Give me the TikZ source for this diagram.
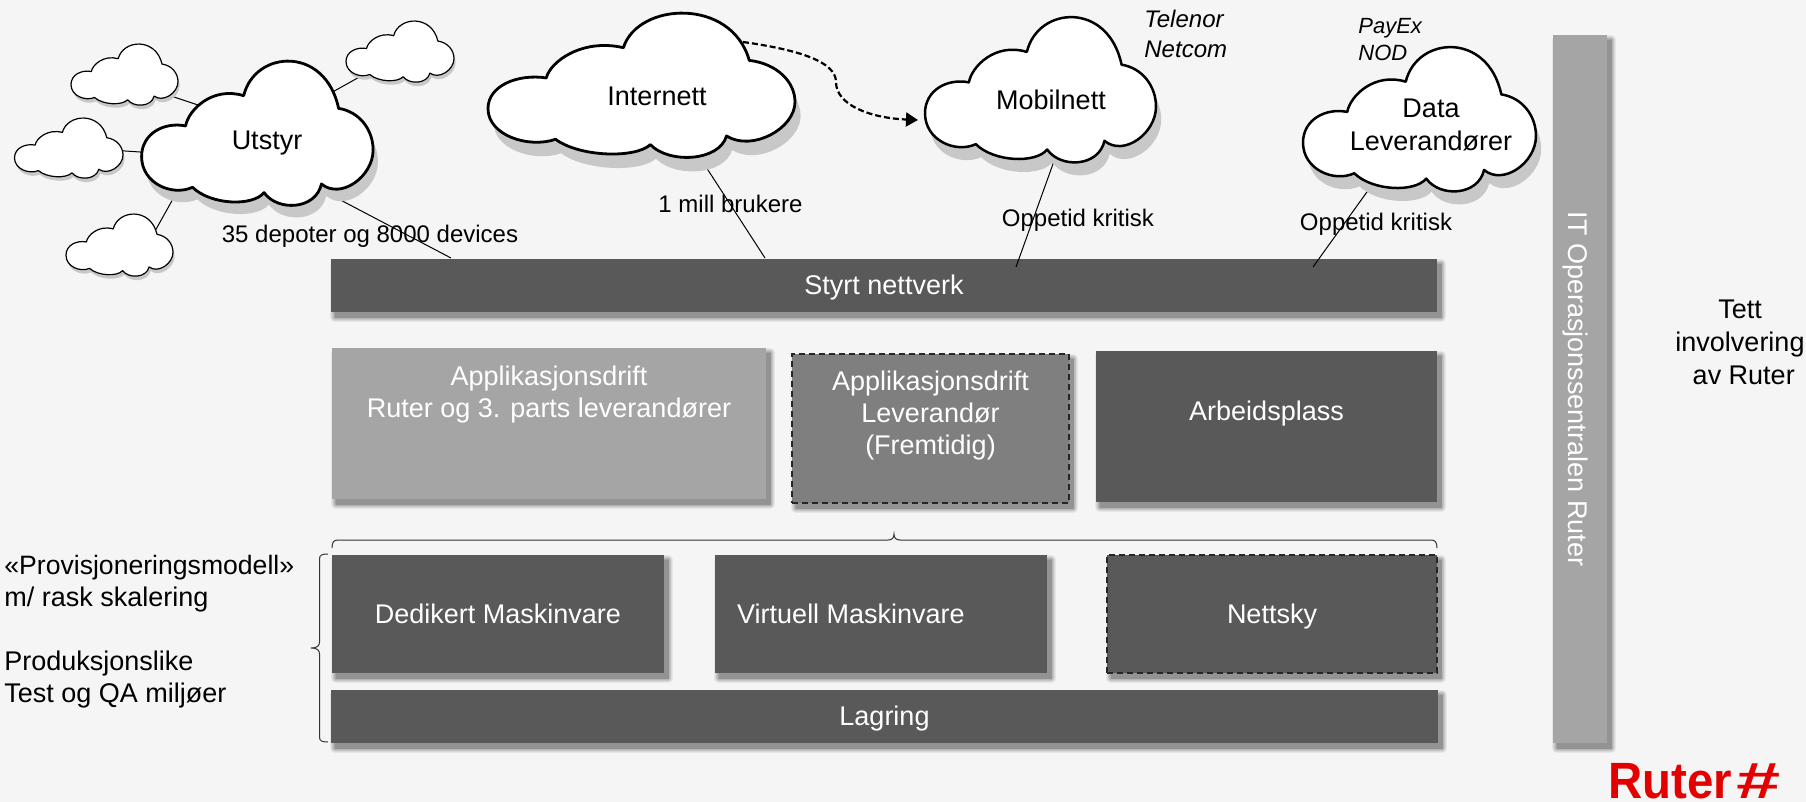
\documentclass[tikz,border=0pt]{standalone}
\usepackage{fontspec}
\setmainfont{Liberation Sans}
\usetikzlibrary{arrows.meta}
\definecolor{bakgrunn}{HTML}{F5F5F5}
\definecolor{morkgraa}{HTML}{595959}
\definecolor{midgraa}{HTML}{7F7F7F}
\definecolor{lysgraa}{HTML}{A5A5A5}
\definecolor{skyskygge}{HTML}{C8C8C8}
\definecolor{ruterrod}{HTML}{E30000}
\tikzset{
  skyggelag/.style 2 args={preaction={draw=#2,fill=#2,solid,line width=#1,line join=round,
    transform canvas={xshift=2pt,yshift=-2.5pt}}},
  bar/.style={fill=#1,text=white,inner sep=0pt,outer sep=0pt,align=center,
    font=\fontsize{13.5}{16}\selectfont,
    skyggelag={5pt}{black!6!bakgrunn},skyggelag={4pt}{black!12!bakgrunn},skyggelag={3pt}{black!19!bakgrunn},
    skyggelag={2pt}{black!26!bakgrunn},skyggelag={1pt}{black!33!bakgrunn},skyggelag={.1pt}{black!40!bakgrunn}},
  enlinje/.style={text height=11pt,text depth=2pt},
  stiplet/.style={draw=black!85,line width=.6pt,dash pattern=on 3pt off 2pt},
  merke/.style={inner sep=0pt,font=\fontsize{12}{16}\selectfont},
  stor/.style={inner sep=0pt,align=center,font=\fontsize{13.5}{16.5}\selectfont},
  kant/.style={line width=.5pt},
  klamme/.style={draw=black!80,line width=.5pt},
}
% sky i en boks 100x100
\newcommand{\skypath}[1]{%
  \path[#1] (19,45.1) .. controls (20.2,34) and (30.6,17.4) .. (44.1,24.1)
  .. controls (48.8,-7.6) and (79.3,-11.1) .. (85.1,32.9)
  .. controls (94.2,35.2) and (100,47.9) .. (100,61.8)
  .. controls (100,80.3) and (86,96.5) .. (77.7,85.4)
  .. controls (75.2,103.5) and (58.7,104.6) .. (52.9,91.4)
  .. controls (47.9,101.2) and (29.8,100) .. (22,87.7)
  .. controls (13.2,94.2) and (0,85) .. (0,66.4)
  .. controls (0,50.2) and (9.9,42.1) .. (19,45.1) -- cycle;}
\newcommand{\sky}[6]{%
  \begin{scope}[shift={(#1,#2)},xshift=#6*.2pt,yshift=-#6*.5pt,xscale=#3/100,yscale=#4/100]
    \skypath{fill=skyskygge}
  \end{scope}
  \begin{scope}[shift={(#1,#2)},xscale=#3/100,yscale=#4/100]
    \skypath{draw=black,fill=white,line width=#5,line join=round}
  \end{scope}
}
\begin{document}
\begin{tikzpicture}[x=.5pt,y=-.5pt]
  \useasboundingbox (0,0) rectangle (1806,802);
  \fill[bakgrunn] (0,0) rectangle (1806,802);
  % felt
  \node[bar=morkgraa,enlinje,minimum width=553pt,minimum height=26.5pt] (styrt) at (884,285.5) {Styrt nettverk};
  \node[bar=lysgraa,minimum width=217pt,minimum height=75.5pt] (applruter) at (549,423.5)
    {Applikasjonsdrift\\Ruter og 3. parts leverandører\\~\\~};
  \node[bar=midgraa,stiplet,minimum width=138.5pt,minimum height=74.5pt] (applleverandor) at (930.5,428.5)
    {Applikasjonsdrift\\Leverandør\\(Fremtidig)\\~};
  \node[bar=morkgraa,minimum width=170.5pt,minimum height=75.5pt] (arbeidsplass) at (1266.5,426.5)
    {Arbeidsplass\\~};
  \node[bar=morkgraa,enlinje,minimum width=166.25pt,minimum height=59pt] (dedikert) at (498,614) {Dedikert Maskinvare};
  \node[bar=morkgraa,enlinje,minimum width=166pt,minimum height=59pt] (virtuell) at (881,614)
    {Virtuell Maskinvare\hspace*{30pt}};
  \node[bar=morkgraa,enlinje,stiplet,minimum width=165pt,minimum height=59pt] (nettsky) at (1272,614) {Nettsky};
  \node[bar=morkgraa,enlinje,minimum width=553.5pt,minimum height=26.5pt] (lagring) at (884.5,716.5) {Lagring};
  \node[bar=lysgraa,minimum width=27pt,minimum height=354pt] (itbar) at (1580,389) {};
  \node[stor,text=white,rotate=-90] (ittekst) at (1575,389) {IT Operasjonssentralen Ruter};
  % klammer
  \coordinate (toppV) at (332,548);
  \coordinate (toppH) at (1437,548);
  \coordinate (sideN) at (328,742);
  \coordinate (sideO) at (328,554);
  \draw[klamme] (toppV) .. controls (332,542) and (334,540) .. (338,540) -- (888,540)
    .. controls (892,540) and (894,538) .. (894,534) .. controls (894,538) and (896,540) .. (900,540)
    -- (1431,540) .. controls (1435,540) and (1437,542) .. (toppH);
  \draw[klamme] (sideO) .. controls (322,554) and (319.5,555) .. (319.5,559) -- (319.5,642)
    .. controls (319.5,646) and (317,648) .. (311,648) .. controls (317,648) and (319.5,650) .. (319.5,654)
    -- (319.5,737) .. controls (319.5,741) and (322,742) .. (sideN);
  % linjer
  \coordinate (utstyrfot) at (310,184);
  \coordinate (styrtA) at (451,258);
  \coordinate (internettfot) at (695,150);
  \coordinate (styrtB) at (765,258);
  \coordinate (mobilfot) at (1058,150);
  \coordinate (styrtC) at (1016,267);
  \coordinate (datafot) at (1377,178);
  \coordinate (styrtD) at (1313,267);
  \draw[kant] (utstyrfot) -- (styrtA);
  \draw[kant] (internettfot) -- (styrtB);
  \draw[kant] (mobilfot) -- (styrtC);
  \draw[kant] (datafot) -- (styrtD);
  \coordinate (smaaA) at (165,94);
  \coordinate (smaaAinn) at (210,109);
  \coordinate (smaaB) at (110,150);
  \coordinate (smaaBinn) at (155,153);
  \coordinate (smaaC) at (150,240);
  \coordinate (smaaCinn) at (178,190);
  \coordinate (smaaD) at (372,70);
  \coordinate (smaaDinn) at (320,99);
  \draw[kant] (smaaA) -- (smaaAinn);
  \draw[kant] (smaaB) -- (smaaBinn);
  \draw[kant] (smaaC) -- (smaaCinn);
  \draw[kant] (smaaD) -- (smaaDinn);
  % skyer
  \sky{71}{44}{107}{61}{.6pt}{4}
  \sky{14.5}{118}{108.5}{60}{.6pt}{4}
  \sky{66}{214}{107}{62}{.6pt}{4}
  \sky{346}{21}{108}{61}{.6pt}{4}
  \sky{141.6}{61}{231.5}{144}{1.4pt}{12}
  \sky{488}{13}{307}{144}{1.4pt}{14}
  \sky{925}{17}{231}{145}{1.25pt}{13}
  \sky{1303}{47}{233}{144}{1.25pt}{13}
  \node[stor] (utstyr) at (267,143) {Utstyr};
  \node[stor] (internett) at (657,96) {Internett};
  \node[stor] (mobilnett) at (1051,100) {Mobilnett};
  \node[stor] (data) at (1431,125) {Data\\Leverandører};
  % stiplet pil
  \coordinate (nettut) at (743,42);
  \coordinate (mobilinn) at (918,120);
  \draw[line width=1.1pt,dash pattern=on 3pt off 1.5pt,-{Triangle[width=7pt,length=6pt]}]
    (nettut) .. controls (800,50) and (836,62) .. (836,82)
    .. controls (836,105) and (870,118) .. (mobilinn);
  % tekster
  \node[merke] (depoter) at (370,236) {35 depoter og 8000 devices};
  \node[merke] (brukere) at (730.5,204) {1 mill brukere};
  \node[merke] (oppetidA) at (1078,220) {Oppetid kritisk};
  \node[merke] (oppetidB) at (1376,224) {Oppetid kritisk};
  \node[merke,anchor=north west,align=left,font=\fontsize{12}{15}\selectfont\itshape] (telenor) at (1144,10) {Telenor\\Netcom};
  \node[merke,anchor=north west,align=left,font=\fontsize{11}{13.5}\selectfont\itshape] (payex) at (1358,18) {PayEx\\NOD};
  \node[stor,anchor=west,align=left,font=\fontsize{13.5}{16}\selectfont] (modell) at (4,584)
    {{\fontsize{13.3}{16}\selectfont «Provisjoneringsmodell»}\\m/ rask skalering};
  \node[stor,anchor=west,align=left,font=\fontsize{13.5}{16}\selectfont] (produksjon) at (4,680) {Produksjonslike\\Test og QA miljøer};
  \node[stor] (tett) at (1740,342) {Tett\\involvering\\~av Ruter};
  \node[inner sep=0pt,anchor=base west,text=ruterrod,font=\fontsize{25.5}{26}\selectfont\bfseries] (logo) at (1608,798)
    {\scalebox{.93}[1]{Ruter}\hspace{1.5pt}\scalebox{1.55}[1]{\itshape\#}};
\end{tikzpicture}
\end{document}
